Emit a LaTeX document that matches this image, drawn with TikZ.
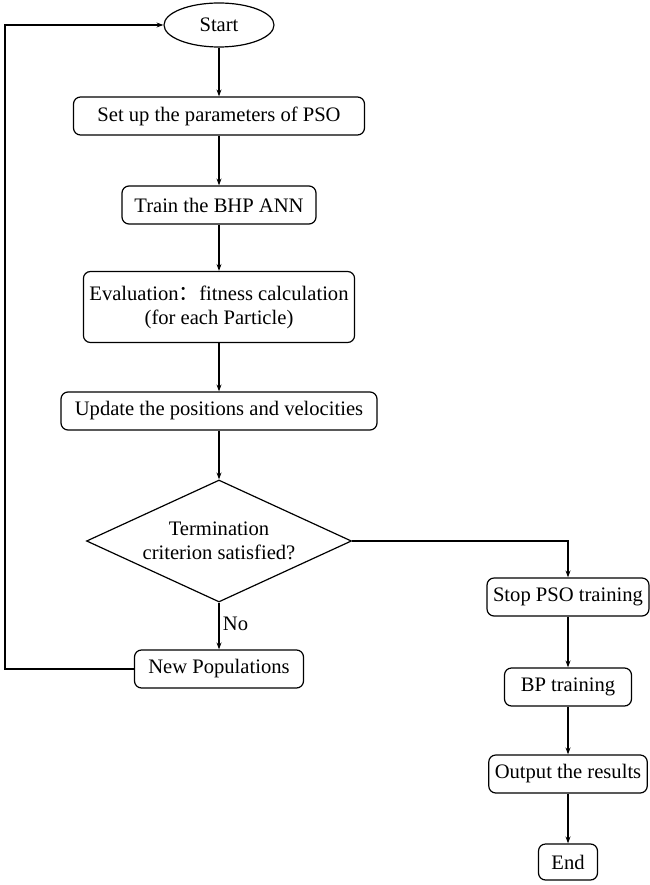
\documentclass[tikz,border=0pt]{standalone}
\usepackage{fontspec}
\setmainfont{Liberation Serif}
\newfontfamily\cjk{Noto Sans CJK SC}
\usetikzlibrary{arrows.meta, shapes.geometric}

\tikzset{
  procbox/.style={draw, line width=1.2pt, rounded corners=7pt, minimum height=38pt,
    align=center, inner xsep=6pt},
  termbox/.style={draw, line width=1.2pt, ellipse, minimum width=110pt, minimum height=44pt},
  decide/.style={draw, line width=1.2pt, diamond, aspect=2.17, minimum width=265pt,
    minimum height=122pt, align=center, inner sep=0pt},
  flow/.style={line width=1.2pt, -{Stealth[length=7pt, width=5pt]}},
}

\begin{document}
\begin{tikzpicture}[x=1pt, y=-1pt, font=\fontsize{20.6}{24}\selectfont]

\useasboundingbox (0,0) rectangle (649,885);

% Main column
\node[termbox] (start) at (219,25) {Start};
\node[procbox, minimum width=291pt] (setup) at (219,116) {Set up the parameters of PSO};
\node[procbox, minimum width=194pt] (train) at (219,205) {Train the BHP ANN};
\node[procbox, minimum width=269pt, minimum height=71pt] (eval) at (219,307)
  {Evaluation{\cjk ：}fitness calculation\\(for each Particle)};
\node[procbox, minimum width=316pt] (update) at (219,411) {Update the positions and velocities};
\node[decide] (crit) at (219,541) {Termination\\criterion satisfied?};
\node[procbox, minimum width=169pt] (newpop) at (219,669) {New Populations};

% Right column
\node[procbox, minimum width=160pt] (stop) at (568,597) {Stop PSO training};
\node[procbox, minimum width=127pt] (bp) at (568,687) {BP training};
\node[procbox, minimum width=158pt] (output) at (568,774) {Output the results};
\node[procbox, minimum width=59pt, minimum height=36pt] (finish) at (568,862) {End};

% Loop corner
\coordinate (loopdown) at (5,669);
\coordinate (loopup) at (5,25);

% Connectors
\draw[flow] (start) -- (setup);
\draw[flow] (setup) -- (train);
\draw[flow] (train) -- (eval);
\draw[flow] (eval) -- (update);
\draw[flow] (update) -- (crit);
\draw[flow] (crit) -- node[right, pos=0.45] {No} (newpop);
\draw[flow] (newpop.west) -- (loopdown) -- (loopup) -- (start.west);
\draw[flow] (crit.east) -| (stop.north);
\draw[flow] (stop) -- (bp);
\draw[flow] (bp) -- (output);
\draw[flow] (output) -- (finish);

\end{tikzpicture}
\end{document}
